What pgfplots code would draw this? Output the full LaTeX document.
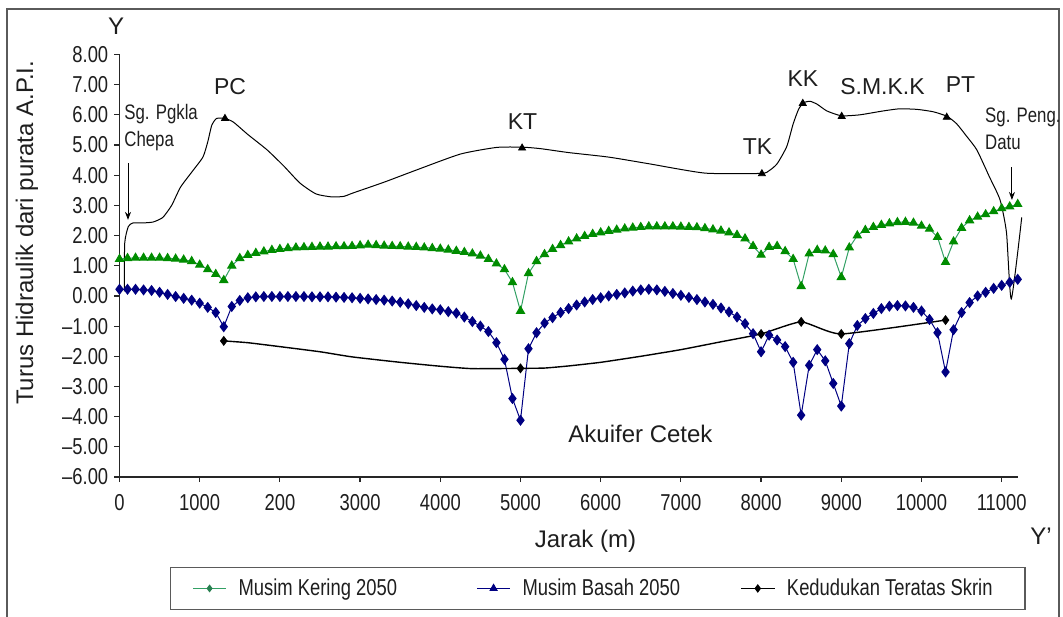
\documentclass[border=0pt]{standalone}
\usepackage{pgfplots}
\pgfplotsset{compat=1.18}
\usepackage{fontspec}
\setmainfont{Liberation Sans}
\newfontfamily\cond[FakeStretch=0.8]{Liberation Sans}
\usetikzlibrary{arrows.meta}
\definecolor{gmark}{RGB}{0,140,0}
\definecolor{gline}{RGB}{50,160,100}
\definecolor{navy}{RGB}{0,0,130}
\definecolor{txt}{RGB}{30,30,30}
\definecolor{frame}{RGB}{90,90,90}

\pgfplotstableread{
x y
0 1.22
100 1.25
200 1.26
300 1.26
400 1.26
500 1.26
600 1.25
700 1.23
800 1.20
900 1.15
1000 1.03
1100 0.88
1200 0.72
1300 0.52
1400 1.00
1500 1.25
1600 1.35
1700 1.42
1800 1.47
1900 1.52
2000 1.55
2100 1.58
2200 1.60
2300 1.61
2400 1.62
2500 1.63
2600 1.63
2700 1.64
2800 1.64
2900 1.65
3000 1.67
3100 1.69
3200 1.68
3300 1.66
3400 1.65
3500 1.64
3600 1.63
3700 1.62
3800 1.60
3900 1.58
4000 1.56
4100 1.53
4200 1.49
4300 1.45
4400 1.40
4500 1.33
4600 1.22
4700 1.07
4800 0.88
4900 0.45
5000 -0.50
5100 0.75
5200 1.15
5300 1.38
5400 1.55
5500 1.68
5600 1.80
5700 1.90
5800 1.98
5900 2.05
6000 2.10
6100 2.15
6200 2.19
6300 2.23
6400 2.26
6500 2.28
6600 2.30
6700 2.30
6800 2.30
6900 2.30
7000 2.29
7100 2.28
7200 2.27
7300 2.24
7400 2.20
7500 2.16
7600 2.10
7700 2.02
7800 1.90
7900 1.65
8000 1.36
8100 1.62
8200 1.65
8300 1.48
8400 1.22
8500 0.32
8600 1.40
8700 1.52
8800 1.50
8900 1.38
9000 0.62
9100 1.60
9200 2.00
9300 2.18
9400 2.28
9500 2.35
9600 2.40
9700 2.44
9800 2.45
9900 2.42
10000 2.32
10100 2.22
10200 1.95
10300 1.12
10400 1.80
10500 2.25
10600 2.50
10700 2.62
10800 2.70
10900 2.80
11000 2.90
11100 2.96
11200 3.04
}\kering

\pgfplotstableread{
x y
0 0.22
100 0.22
200 0.22
300 0.20
400 0.18
500 0.12
600 0.05
700 -0.02
800 -0.08
900 -0.14
1000 -0.24
1100 -0.38
1200 -0.55
1300 -1.02
1400 -0.35
1500 -0.15
1600 -0.06
1700 -0.03
1800 -0.02
1900 -0.02
2000 -0.02
2100 -0.02
2200 -0.02
2300 -0.02
2400 -0.03
2500 -0.03
2600 -0.03
2700 -0.04
2800 -0.05
2900 -0.06
3000 -0.08
3100 -0.10
3200 -0.12
3300 -0.14
3400 -0.17
3500 -0.21
3600 -0.26
3700 -0.32
3800 -0.38
3900 -0.43
4000 -0.46
4100 -0.52
4200 -0.57
4300 -0.70
4400 -0.85
4500 -1.00
4600 -1.18
4700 -1.55
4800 -2.10
4900 -3.40
5000 -4.12
5100 -1.75
5200 -1.22
5300 -0.90
5400 -0.72
5500 -0.55
5600 -0.42
5700 -0.30
5800 -0.20
5900 -0.12
6000 -0.06
6100 0.00
6200 0.05
6300 0.10
6400 0.16
6500 0.20
6600 0.22
6700 0.20
6800 0.15
6900 0.08
7000 0.02
7100 -0.05
7200 -0.12
7300 -0.20
7400 -0.28
7500 -0.40
7600 -0.53
7700 -0.70
7800 -0.92
7900 -1.25
8000 -1.85
8100 -1.30
8200 -1.46
8300 -1.68
8400 -2.20
8500 -3.95
8600 -2.30
8700 -1.78
8800 -2.15
8900 -2.90
9000 -3.65
9100 -1.58
9200 -0.98
9300 -0.75
9400 -0.58
9500 -0.42
9600 -0.34
9700 -0.32
9800 -0.33
9900 -0.38
10000 -0.50
10100 -0.78
10200 -1.22
10300 -2.52
10400 -1.12
10500 -0.55
10600 -0.22
10700 0.00
10800 0.12
10900 0.25
11000 0.35
11100 0.45
11200 0.55
}\basah

\pgfplotstableread{
x y
60 0.15
65 1.75
110 2.30
170 2.42
300 2.42
420 2.45
540 2.60
650 3.00
760 3.60
900 4.10
1040 4.60
1100 5.10
1150 5.65
1210 5.88
1315 5.88
1420 5.76
1600 5.35
1840 4.84
2050 4.30
2250 3.74
2450 3.38
2650 3.28
2800 3.30
2900 3.40
3300 3.77
3700 4.17
4250 4.70
4700 4.92
5020 4.93
5250 4.88
5600 4.75
6100 4.60
6600 4.38
7300 4.07
8000 4.06
8100 4.15
8200 4.38
8320 4.95
8400 5.70
8470 6.20
8530 6.40
8610 6.45
8700 6.35
8820 6.13
9000 5.97
9230 6.00
9500 6.12
9725 6.20
9950 6.18
10150 6.10
10320 5.95
10440 5.70
10560 5.30
10690 4.84
10850 3.93
10980 3.18
11060 2.10
11120 -0.10
11250 2.60
}\tanah

\pgfplotstableread{
x y
1315 5.88
5020 4.90
8010 4.05
8520 6.38
9005 5.95
10315 5.92
}\stesen

\pgfplotstableread{
x y
1300 -1.49
1600 -1.55
2000 -1.68
2500 -1.85
2900 -2.02
3500 -2.20
4000 -2.33
4400 -2.41
5000 -2.40
5300 -2.39
5600 -2.32
6000 -2.20
6500 -2.00
7000 -1.78
7500 -1.52
8000 -1.26
8500 -0.86
9000 -1.26
10300 -0.80
}\skrinline

\pgfplotstableread{
x y
1300 -1.49
5000 -2.40
8000 -1.26
8500 -0.86
9000 -1.26
10300 -0.80
}\skrin

\begin{document}
\begin{tikzpicture}
\useasboundingbox (0,0) rectangle (531.5pt,308pt);
\begin{scope}[shift={(0pt,308pt)}, x=0.5pt, y=-0.5pt]
\draw[frame, line width=0.8pt] (7,625) -- (7,9) -- (1059,9) -- (1059,625);
\end{scope}
\begin{axis}[
  at={(59.75pt,69.5pt)}, anchor=south west,
  scale only axis, width=449.1pt, height=211.25pt,
  xmin=0, xmax=11200, ymin=-6, ymax=8,
  clip=false,
  scaled x ticks=false, scaled y ticks=false,
  axis x line*=bottom, axis y line*=left,
  axis line style={line width=0.75pt, black!85},
  tick style={line width=0.6pt, black!85},
  tick align=outside, major tick length=2.6pt,
  xtick={0,1000,2000,3000,4000,5000,6000,7000,8000,9000,10000,11000},
  xticklabels={0,1000,200,3000,4000,5000,6000,7000,8000,9000,10000,11000},
  ytick={-6,-5,-4,-3,-2,-1,0,1,2,3,4,5,6,7,8},
  yticklabels={–6.00,–5.00,–4.00,–3.00,–2.00,–1.00,0.00,1.00,2.00,3.00,4.00,5.00,6.00,7.00,8.00},
  ticklabel style={font=\cond\fontsize{11.5}{12}\selectfont, text=txt},
  xticklabel style={yshift=-2.5pt},
  yticklabel style={xshift=0.5pt},
  legend columns=3,
  legend style={at={(0.0562,-0.213)}, anchor=north west, draw=frame, line width=0.6pt,
    inner xsep=11pt, inner ysep=5.5pt, column sep=6pt,
    nodes={inner sep=0pt, anchor=west}, font=\cond\fontsize{11.5}{13}\selectfont, text=txt},
  legend cell align=left,
  legend image code/.code={
    \draw[mark repeat=2,mark phase=2,#1] plot coordinates {(0pt,0pt) (8.25pt,0pt) (16.5pt,0pt)};
  },
]
% ground surface
\addplot[black, line width=0.5pt, smooth, tension=0.35, forget plot] table[x=x,y=y] {\tanah};
\addplot[only marks, mark=triangle*, mark size=2pt, black, forget plot] table[x=x,y=y] {\stesen};
% Musim Kering 2050
\addplot[gline, line width=0.5pt, mark=triangle*, mark size=2.3pt, mark options={draw=gmark, fill=gmark},
  legend image post style={mark=diamond*, mark size=1.6pt, mark options={draw=gline!80!black, fill=gline!80!black}}]
  table[x=x,y=y] {\kering};
\addlegendentry{\makebox[113pt][l]{Musim Kering 2050}}
% Musim Basah 2050
\addplot[navy, line width=0.5pt, mark=diamond*, mark size=2.4pt, mark options={draw=navy, fill=navy},
  legend image post style={mark=triangle*, mark size=2pt}]
  table[x=x,y=y] {\basah};
\addlegendentry{\makebox[103pt][l]{Musim Basah 2050}}
% Kedudukan Teratas Skrin
\addplot[black, line width=0.7pt, smooth, tension=0.3,
  legend image post style={mark=diamond*, mark size=1.6pt}]
  table[x=x,y=y] {\skrinline};
\addlegendentry{\makebox[108pt][l]{Kedudukan Teratas Skrin}}
\addplot[only marks, mark=diamond*, mark size=2.2pt, black, forget plot] table[x=x,y=y] {\skrin};

% annotations
\begin{scope}[every node/.style={text=txt, inner sep=0pt}]
\node[anchor=base, font=\fontsize{11.5}{12}\selectfont] at (axis cs:1378,6.66) {PC};
\node[anchor=base, font=\fontsize{11.5}{12}\selectfont] at (axis cs:5025,5.50) {KT};
\node[anchor=base, font=\fontsize{11.5}{12}\selectfont] at (axis cs:7955,4.67) {TK};
\node[anchor=base, font=\fontsize{11.5}{12}\selectfont] at (axis cs:8522,6.93) {KK};
\node[anchor=base, font=\fontsize{11.5}{12}\selectfont] at (axis cs:9514,6.66) {S.M.K.K};
\node[anchor=base, font=\fontsize{11.5}{12}\selectfont] at (axis cs:10486,6.73) {PT};
\node[anchor=base, font=\fontsize{12}{13}\selectfont] at (axis cs:6496,-4.87) {Akuifer Cetek};
\node[anchor=base west, font=\cond\fontsize{10.5}{11}\selectfont] at (axis cs:56,5.85) {Sg. Pgkla};
\node[anchor=base west, font=\cond\fontsize{10.5}{11}\selectfont] at (axis cs:56,4.95) {Chepa};
\node[anchor=base west, font=\cond\fontsize{10.5}{11}\selectfont] at (axis cs:10790,5.74) {Sg. Peng.};
\node[anchor=base west, font=\cond\fontsize{10.5}{11}\selectfont] at (axis cs:10790,4.84) {Datu};
\node[anchor=base, font=\fontsize{12}{13}\selectfont] at (axis cs:-43,8.65) {Y};
\node[anchor=base, font=\fontsize{12}{13}\selectfont] at (axis cs:11490,-8.25) {Y’};
\node[anchor=base, font=\fontsize{12}{13}\selectfont] at (axis cs:5810,-8.35) {Jarak (m)};
\node[rotate=90, font=\fontsize{12}{13}\selectfont] at (axis cs:-1153,2.09) {Turus Hidraulik dari purata A.P.I.};
\end{scope}
\draw[black, line width=0.5pt, -{Stealth[length=4pt,width=3pt]}] (axis cs:106,4.4) -- (axis cs:106,2.52);
\draw[black, line width=0.5pt, -{Stealth[length=4pt,width=3pt]}] (axis cs:11128,4.27) -- (axis cs:11128,3.18);
\end{axis}
\end{tikzpicture}
\end{document}
